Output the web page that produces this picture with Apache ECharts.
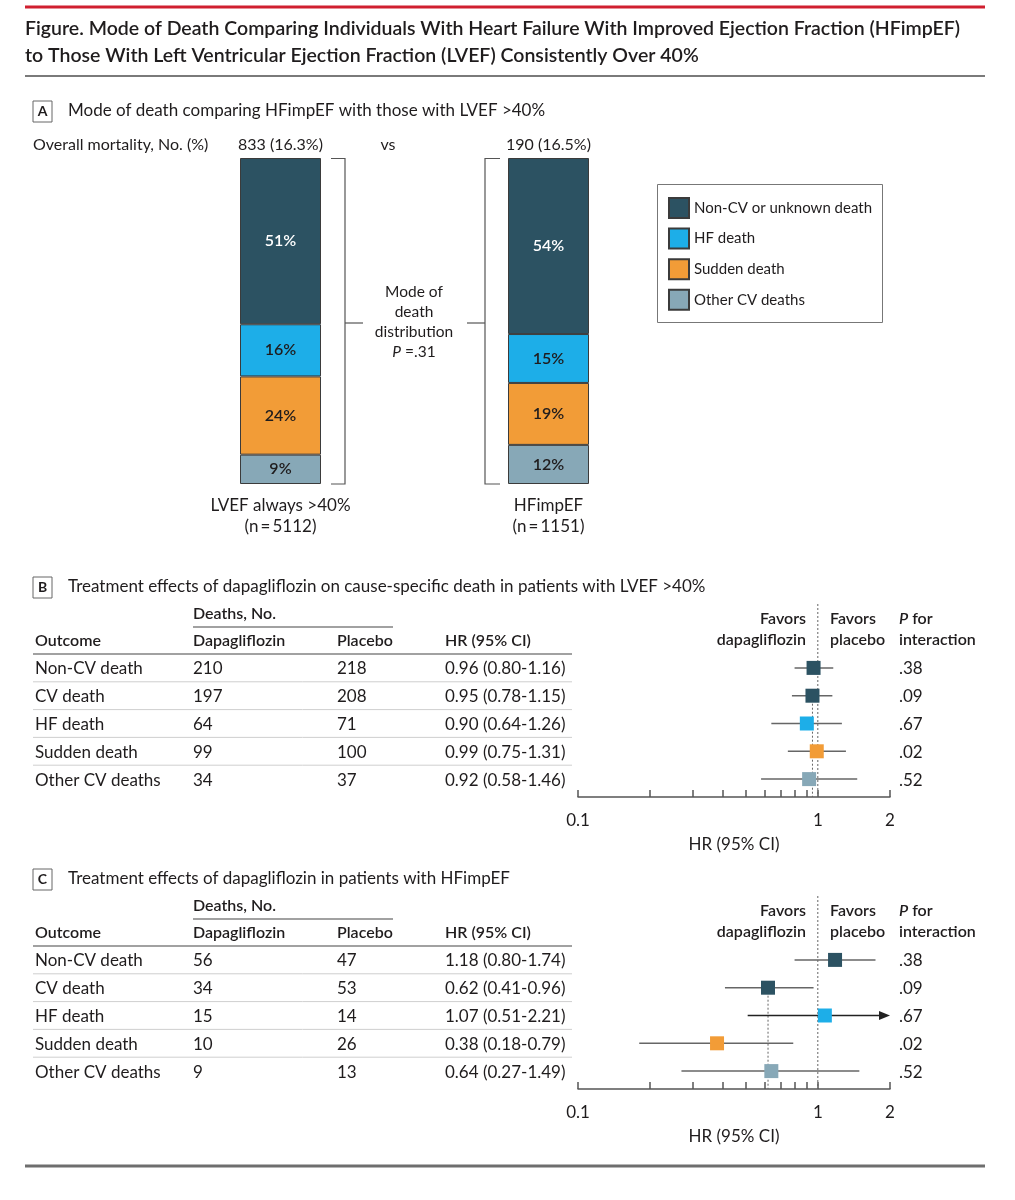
<!DOCTYPE html>
<html><head><meta charset="utf-8">
<script src="https://cdn.jsdelivr.net/npm/echarts@6/dist/echarts.min.js"></script>
<style>html,body{margin:0;padding:0;background:#fff}#c{width:1015px;height:1200px}</style>
</head><body><div id="c"></div>
<script>
// ---------------- Data ----------------
const groups = ['LVEF always >40%', 'HFimpEF'];
const groupN = [5112, 1151];
const overallMortality = ['833 (16.3%)', '190 (16.5%)'];
const causes = ['Non-CV or unknown death', 'HF death', 'Sudden death', 'Other CV deaths'];
const pctNonCV = [51, 54];
const pctHF = [16, 15];
const pctSudden = [24, 19];
const pctOther = [9, 12];
const modeP = '.31';

const outcomes = ['Non-CV death', 'CV death', 'HF death', 'Sudden death', 'Other CV deaths'];
const bDapa = [210, 197, 64, 99, 34];
const bPlacebo = [218, 208, 71, 100, 37];
const bHR = [0.96, 0.95, 0.90, 0.99, 0.92];
const bLow = [0.80, 0.78, 0.64, 0.75, 0.58];
const bHigh = [1.16, 1.15, 1.26, 1.31, 1.46];
const bP = ['.38', '.09', '.67', '.02', '.52'];

const cDapa = [56, 34, 15, 10, 9];
const cPlacebo = [47, 53, 14, 26, 13];
const cHR = [1.18, 0.62, 1.07, 0.38, 0.64];
const cLow = [0.80, 0.41, 0.51, 0.18, 0.27];
const cHigh = [1.74, 0.96, 2.21, 0.79, 1.49];
const cP = ['.38', '.09', '.67', '.02', '.52'];

const hrTicks = [0.1, 0.2, 0.3, 0.4, 0.5, 0.6, 0.7, 0.8, 0.9, 1, 2];
const hrTickLabels = [0.1, 1, 2];
const hrMin = 0.1, hrMax = 2;

// ---------------- Style ----------------
const FONT = 'Lato, "Noto Sans", sans-serif';
const INK = '#1f1c1d';
const COL = { nonCV: '#2c5262', hf: '#1daee8', sudden: '#f29c37', other: '#87a8b7' };
const causeColors = [COL.nonCV, COL.hf, COL.sudden, COL.other];
const causeLabelColors = ['#ffffff', INK, INK, INK];
const outcomeColors = [COL.nonCV, COL.nonCV, COL.hf, COL.sudden, COL.other];

function font(size, weight, style) { return (style || 'normal') + ' ' + (weight || 'normal') + ' ' + size + 'px ' + FONT; }
function T(x, y, text, o) {
  o = o || {};
  const st = { text: text, fill: o.color || INK, font: font(o.size || 17, o.weight, o.fstyle), align: o.align || 'left', verticalAlign: 'middle' };
  if (o.rich) st.rich = o.rich;
  return { type: 'text', x: x, y: y, silent: true, z: 10, style: st };
}
function L(points, o) {
  o = o || {};
  return { type: 'polyline', silent: true, z: 10, shape: { points: points }, style: { stroke: o.color || '#555', lineWidth: o.width || 1, lineDash: o.dash || null, fill: null } };
}
function R(x, y, w, h, o) {
  o = o || {};
  return { type: 'rect', silent: true, z: 9, shape: { x: x, y: y, width: w, height: h }, style: { stroke: o.stroke || '#555', lineWidth: o.width || 1, fill: o.fill || null } };
}

// ---------------- Graphic (frame, headers, decorations) ----------------
const g = [];
g.push(L([[25, 7], [985, 7]], { color: '#d01f2f', width: 3 }));
g.push(T(25, 29, 'Figure. Mode of Death Comparing Individuals With Heart Failure With Improved Ejection Fraction (HFimpEF)', { size: 19.5, weight: 600 }));
g.push(T(25, 56, 'to Those With Left Ventricular Ejection Fraction (LVEF) Consistently Over 40%', { size: 19.5, weight: 600 }));
g.push(L([[25, 76], [985, 76]], { color: '#7a7a7a', width: 2 }));
g.push(L([[25, 1166], [985, 1166]], { color: '#6e6e6e', width: 3 }));

function panelLetter(letter, y, title) {
  g.push(R(33, y - 10, 19, 21, { stroke: '#666' }));
  g.push(T(42.5, y + 0.5, letter, { size: 14, weight: 'bold', align: 'center' }));
  g.push(T(68, y, title, { size: 17 }));
}
panelLetter('A', 111, 'Mode of death comparing HFimpEF with those with LVEF >40%');
g.push(T(33, 145, 'Overall mortality, No. (%)', { size: 16 }));
g.push(T(388, 145, 'vs', { size: 16, align: 'center' }));
// brackets
g.push(L([[331, 158.5], [345, 158.5], [345, 484], [331, 484]], { color: '#555', width: 1.2 }));
g.push(L([[345, 323], [363, 323]], { color: '#555', width: 1.2 }));
g.push(L([[500, 158.5], [485, 158.5], [485, 484], [500, 484]], { color: '#555', width: 1.2 }));
g.push(L([[485, 323], [467, 323]], { color: '#555', width: 1.2 }));
g.push(T(414, 292, 'Mode of', { size: 15.5, align: 'center' }));
g.push(T(414, 312, 'death', { size: 15.5, align: 'center' }));
g.push(T(414, 332, 'distribution', { size: 15.5, align: 'center' }));
g.push(T(414, 352, '{i|P} =' + modeP, { size: 15.5, align: 'center', rich: { i: { fontStyle: 'italic', fontSize: 15.5, fontFamily: FONT, fill: INK } } }));
// legend frame
g.push(R(657.5, 184.5, 225, 138, { stroke: '#777' }));

function tableHeader(letter, d, title) {
  panelLetter(letter, 587 + d, title);
  g.push(T(193, 614 + d, 'Deaths, No.', { size: 16, weight: 600 }));
  g.push(L([[193, 627 + d], [393, 627 + d]], { color: '#444', width: 1.2 }));
  g.push(T(35, 641 + d, 'Outcome', { size: 16, weight: 600 }));
  g.push(T(193, 641 + d, 'Dapagliflozin', { size: 16, weight: 600 }));
  g.push(T(337, 641 + d, 'Placebo', { size: 16, weight: 600 }));
  g.push(T(445, 641 + d, 'HR (95% CI)', { size: 16, weight: 600 }));
  g.push(L([[33, 654 + d], [572, 654 + d]], { color: '#444', width: 1.2 }));
  g.push(T(806, 619 + d, 'Favors', { size: 16, weight: 600, align: 'right' }));
  g.push(T(806, 640 + d, 'dapagliflozin', { size: 16, weight: 600, align: 'right' }));
  g.push(T(830, 619 + d, 'Favors', { size: 16, weight: 600 }));
  g.push(T(830, 640 + d, 'placebo', { size: 16, weight: 600 }));
  g.push(T(899, 619 + d, '{i|P} for', { size: 16, weight: 600, rich: { i: { fontStyle: 'italic', fontWeight: 600, fontSize: 16, fontFamily: FONT, fill: INK } } }));
  g.push(T(899, 640 + d, 'interaction', { size: 16, weight: 600 }));
}
tableHeader('B', 0, 'Treatment effects of dapagliflozin on cause-specific death in patients with LVEF >40%');
tableHeader('C', 292, 'Treatment effects of dapagliflozin in patients with HFimpEF');

// ---------------- Series builders ----------------
const pctByCause = [pctNonCV, pctHF, pctSudden, pctOther];
const barSeries = [3, 2, 1, 0].map(function (k) {
  return {
    type: 'bar', name: causes[k], stack: 'mode', xAxisIndex: 0, yAxisIndex: 0, barWidth: 81,
    data: pctByCause[k],
    itemStyle: { color: causeColors[k], borderColor: '#3b3b3b', borderWidth: 1 },
    label: { show: true, position: 'inside', formatter: '{c}%', color: causeLabelColors[k], fontSize: 16, fontWeight: 600, fontFamily: FONT }
  };
});

function forestSeries(xi, yi, dapa, plac, hr, lo, hi, pv) {
  const rows = outcomes.map(function (o, i) { return [hr[i], i, lo[i], hi[i]]; });
  const table = {
    type: 'custom', xAxisIndex: xi, yAxisIndex: yi, clip: false, silent: true, z: 3,
    data: rows, encode: { x: 0, y: 1 },
    renderItem: function (params, api) {
      const i = params.dataIndex;
      const y = api.coord([1, i])[1] + 1;
      const rowH = params.coordSys.height / outcomes.length;
      const txt = function (x, s) { return { type: 'text', style: { text: s, x: x, y: y, fill: INK, font: font(17), align: 'left', verticalAlign: 'middle' } }; };
      const ch = [
        txt(35, outcomes[i]), txt(193, String(dapa[i])), txt(337, String(plac[i])),
        txt(445, hr[i].toFixed(2) + ' (' + lo[i].toFixed(2) + '-' + hi[i].toFixed(2) + ')'),
        txt(899, pv[i])
      ];
      if (i < outcomes.length - 1) ch.push({ type: 'line', shape: { x1: 33, y1: y - 1 + rowH / 2, x2: 572, y2: y - 1 + rowH / 2 }, style: { stroke: '#cfcfcf', lineWidth: 1 } });
      return { type: 'group', children: ch };
    }
  };
  const refLines = {
    type: 'custom', xAxisIndex: xi, yAxisIndex: yi, clip: false, silent: true, z: 2,
    data: [[1, 0], [hr[1], 1]], encode: { x: 0, y: 1 },
    renderItem: function (params, api) {
      const i = params.dataIndex;
      const p = api.coord([api.value(0), api.value(1)]);
      const cs = params.coordSys;
      const yBottom = cs.y + cs.height + 4;
      const yTop = i === 0 ? cs.y - 50 : p[1];
      return { type: 'line', shape: { x1: p[0], y1: yTop, x2: p[0], y2: yBottom }, style: { stroke: '#666', lineWidth: 1, lineDash: [2, 2] } };
    }
  };
  const ci = {
    type: 'custom', xAxisIndex: xi, yAxisIndex: yi, clip: false, silent: true, z: 4,
    data: rows, encode: { x: 0, y: 1 },
    renderItem: function (params, api) {
      const i = api.value(1);
      const hv = api.value(3);
      const over = hv > hrMax;
      const a = api.coord([api.value(2), i]);
      const b = api.coord([Math.min(hv, hrMax), i]);
      const ch = [{ type: 'line', shape: { x1: a[0], y1: a[1], x2: over ? b[0] - 4 : b[0], y2: b[1] }, style: { stroke: over ? '#222' : '#666', lineWidth: 1.5 } }];
      if (over) ch.push({ type: 'polygon', shape: { points: [[b[0], b[1]], [b[0] - 11, b[1] - 4.5], [b[0] - 11, b[1] + 4.5]] }, style: { fill: '#222' } });
      return { type: 'group', children: ch };
    }
  };
  const pts = {
    type: 'scatter', xAxisIndex: xi, yAxisIndex: yi, symbol: 'rect', symbolSize: 14, z: 6, silent: true,
    data: outcomes.map(function (o, i) { return { value: [hr[i], i], itemStyle: { color: outcomeColors[i], opacity: 1 } }; })
  };
  return [refLines, table, ci, pts];
}

function hrAxis(gi) {
  return {
    type: 'log', logBase: 10, gridIndex: gi, min: hrMin, max: hrMax, offset: 4,
    axisLine: { show: true, onZero: false, lineStyle: { color: '#555', width: 1.5 } },
    axisTick: { show: true, inside: true, length: 7, customValues: hrTicks, lineStyle: { color: '#555', width: 1.5 } },
    minorTick: { show: false },
    axisLabel: { customValues: hrTickLabels, margin: 15, fontSize: 17, color: INK, fontFamily: FONT, formatter: function (v) { return String(+(+v).toPrecision(3)); } },
    splitLine: { show: false },
    name: 'HR (95% CI)', nameLocation: 'middle', nameGap: 39,
    nameTextStyle: { fontSize: 17, color: INK, fontFamily: FONT }
  };
}
function rowAxis(gi) {
  return { type: 'category', gridIndex: gi, data: outcomes, inverse: true, show: false };
}

const option = {
  animation: false,
  backgroundColor: '#ffffff',
  textStyle: { fontFamily: FONT },
  grid: [
    { left: 146.5, top: 158, width: 536, height: 326 },
    { left: 578, top: 654, width: 312, height: 139 },
    { left: 578, top: 946, width: 312, height: 139 }
  ],
  legend: {
    data: causes, orient: 'vertical', left: 668, top: 197, itemWidth: 20, itemHeight: 20, itemGap: 8.6,
    icon: 'rect', selectedMode: false, padding: 0,
    textStyle: { fontSize: 15, color: INK, fontFamily: FONT }
  },
  xAxis: [
    {
      type: 'category', gridIndex: 0, position: 'bottom',
      data: groups.map(function (s, i) { return s + '\n(n\u2009=\u2009' + groupN[i] + ')'; }),
      axisLine: { show: false }, axisTick: { show: false },
      axisLabel: { fontSize: 17, lineHeight: 21, color: INK, margin: 11, fontFamily: FONT }
    },
    {
      type: 'category', gridIndex: 0, position: 'top', data: overallMortality,
      axisLine: { show: false }, axisTick: { show: false },
      axisLabel: { fontSize: 16, color: INK, margin: 5, fontFamily: FONT }
    },
    hrAxis(1), hrAxis(2)
  ],
  yAxis: [
    { type: 'value', gridIndex: 0, min: 0, max: 100, show: false },
    rowAxis(1), rowAxis(2)
  ],
  graphic: { elements: g },
  series: barSeries
    .concat(forestSeries(2, 1, bDapa, bPlacebo, bHR, bLow, bHigh, bP))
    .concat(forestSeries(3, 2, cDapa, cPlacebo, cHR, cLow, cHigh, cP))
};

const chart = echarts.init(document.getElementById('c'), null, { renderer: 'canvas' });
chart.setOption(option);
</script></body></html>
